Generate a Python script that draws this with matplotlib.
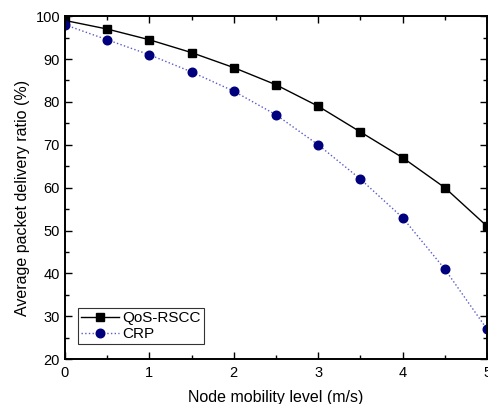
import matplotlib
matplotlib.use('Agg')
import matplotlib.pyplot as plt
from matplotlib.ticker import MultipleLocator

plt.rcParams['font.family'] = ['Liberation Sans', 'DejaVu Sans']

# data
mobility = [0, 0.5, 1, 1.5, 2, 2.5, 3, 3.5, 4, 4.5, 5]
qos_rscc = [99, 97, 94.5, 91.5, 88, 84, 79, 73, 67, 60, 51]
crp = [98, 94.5, 91, 87, 82.5, 77, 70, 62, 53, 41, 27]

fig = plt.figure(figsize=(4.88, 4.04), dpi=100)
ax = fig.add_axes([0.133, 0.111, 0.865, 0.849])

ax.plot(mobility, qos_rscc, color='black', linestyle='-', linewidth=1.0,
        marker='s', markersize=5.5, label='QoS-RSCC')
ax.plot(mobility, crp, color='#5a5ac8', linestyle=':', linewidth=1.0,
        marker='o', markersize=6.2, markerfacecolor='#00007f',
        markeredgecolor='#00007f', label='CRP')

ax.set_xlim(0, 5)
ax.set_ylim(20, 100)
ax.xaxis.set_major_locator(MultipleLocator(1))
ax.xaxis.set_minor_locator(MultipleLocator(0.5))
ax.yaxis.set_major_locator(MultipleLocator(10))
ax.yaxis.set_minor_locator(MultipleLocator(5))
ax.tick_params(which='both', direction='in', top=True, right=True,
               labelsize=10.5, width=1.0)
ax.tick_params(which='major', length=5)
ax.tick_params(which='minor', length=3)
ax.tick_params(axis='x', pad=5)
for s in ax.spines.values():
    s.set_linewidth(1.4)

ax.set_xlabel('Node mobility level (m/s)', fontsize=11.5, labelpad=7)
ax.set_ylabel('Average packet delivery ratio (%)', fontsize=11.5)
ax.yaxis.set_label_coords(-0.083, 0.47)

leg = ax.legend(loc='lower left', bbox_to_anchor=(0.031, 0.044), fontsize=11,
                frameon=True, fancybox=False, edgecolor='black',
                handlelength=2.5, borderpad=0.2, labelspacing=0.1,
                handletextpad=0.2, borderaxespad=0)
leg.get_frame().set_linewidth(0.8)

fig.savefig('out.png', dpi=100)
